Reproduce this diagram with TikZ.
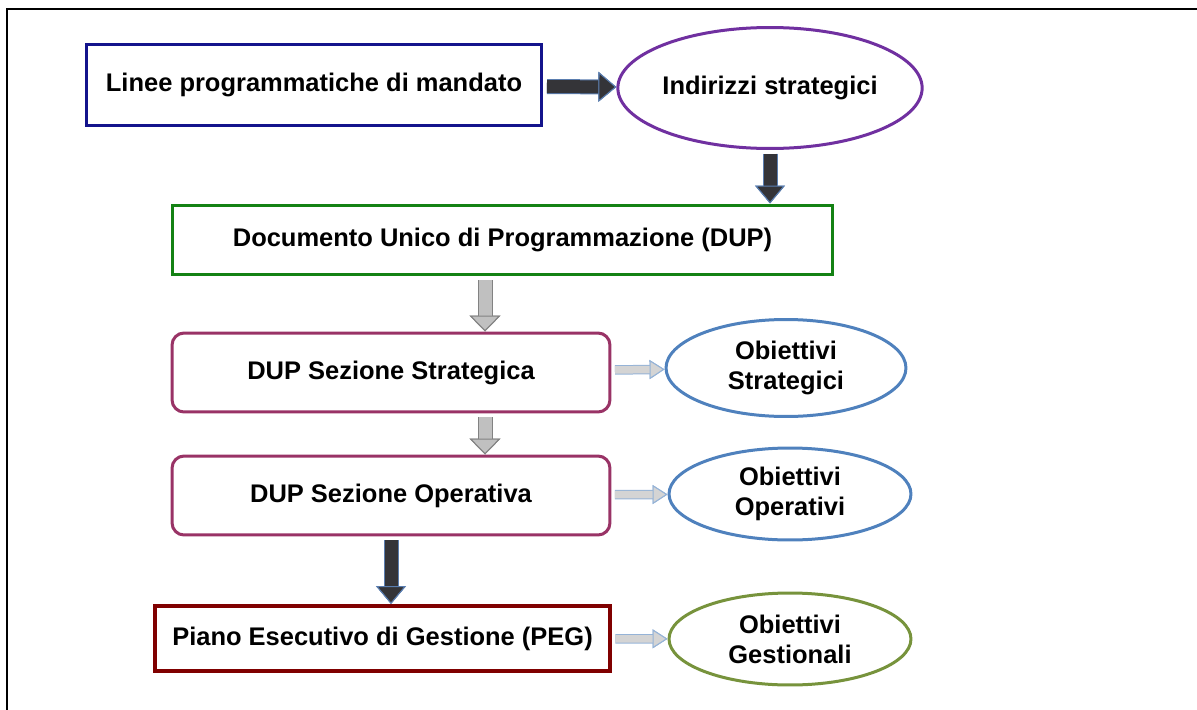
\documentclass[tikz,border=0pt]{standalone}
\usepackage{fontspec}
\setmainfont{Liberation Sans}
\usetikzlibrary{shapes, arrows.meta, positioning, calc}

\definecolor{boxnavy}{RGB}{20,20,140}
\definecolor{ellpurple}{RGB}{112,48,160}
\definecolor{boxgreen}{RGB}{20,130,20}
\definecolor{boxplum}{RGB}{153,51,102}
\definecolor{boxred}{RGB}{128,0,0}
\definecolor{ellblue}{RGB}{79,129,189}
\definecolor{ellgreen}{RGB}{119,147,60}
\definecolor{arrdark}{RGB}{52,52,56}
\definecolor{arredge}{RGB}{90,125,175}
\definecolor{arrgrey}{RGB}{192,192,192}
\definecolor{arrgreyedge}{RGB}{130,130,130}
\definecolor{arrside}{RGB}{212,212,212}
\definecolor{arrsideedge}{RGB}{149,179,215}

\begin{document}
\begin{tikzpicture}[
    x=0.02cm, y=-0.02cm,
    font=\fontsize{14.5}{17}\selectfont\bfseries,
    box/.style={draw, line width=0.06cm, fill=white, inner sep=0pt, align=center},
    oval/.style={draw, ellipse, line width=0.06cm, fill=white, inner sep=0pt, align=center},
    darkarrow/.style={draw=arrdark, line width=0.26cm, shorten <=2pt,
        -{Triangle[length=0.36cm, width=0.6cm, color=arredge, fill=arrdark, line width=0.6pt]},
        preaction={draw=arredge, line width=0.3cm}},
    greyarrow/.style={draw=arrgrey, line width=0.26cm, shorten <=2pt,
        -{Triangle[length=0.32cm, width=0.62cm, color=arrgreyedge, fill=arrgrey, line width=0.6pt]},
        preaction={draw=arrgreyedge, line width=0.3cm}},
    sidearrow/.style={draw=arrside, line width=0.15cm, shorten <=2pt,
        -{Triangle[length=0.3cm, width=0.38cm, color=arrsideedge, fill=arrside, line width=0.6pt]},
        preaction={draw=arrsideedge, line width=0.19cm}}
]

\useasboundingbox (0,0) rectangle (1197,710);

% Frame round the whole scheme
\draw[line width=0.04cm] (7,710) -- (7,9) -- (1197,9);

% Main column
\node (linee) [box, draw=boxnavy, minimum width=9.12cm, minimum height=1.64cm] at (314,85) {Linee programmatiche di mandato};
\node (indir) [oval, draw=ellpurple, minimum width=5.84cm, minimum height=2.42cm] at (770,88) {Indirizzi strategici};
\node (dup) [box, draw=boxgreen, minimum width=13.22cm, minimum height=1.4cm] at (502.5,240) {Documento Unico di Programmazione (DUP)};
\node (strat) [box, draw=boxplum, rounded corners=0.24cm, minimum width=8.76cm, minimum height=1.58cm] at (391,372.5) {DUP Sezione Strategica};
\node (oper) [box, draw=boxplum, rounded corners=0.24cm, minimum width=8.76cm, minimum height=1.58cm] at (391,495.5) {DUP Sezione Operativa};
\node (peg) [box, draw=boxred, line width=0.08cm, minimum width=9.1cm, minimum height=1.3cm] at (382.5,638.5) {Piano Esecutivo di Gestione (PEG)};

% Objectives
\node (ostrat) [oval, draw=ellblue, minimum width=4.8cm, minimum height=1.94cm] at (786,368) {Obiettivi\\Strategici};
\node (ooper) [oval, draw=ellblue, minimum width=4.84cm, minimum height=1.84cm] at (790,494) {Obiettivi\\Operativi};
\node (oges) [oval, draw=ellgreen, minimum width=4.84cm, minimum height=1.84cm] at (790,639) {Obiettivi\\Gestionali};

% Arrows
\coordinate (gx) at (485,0);
\draw[darkarrow] (linee) -- (indir);
\draw[darkarrow] (indir.south) -- (indir.south |- dup.north);
\draw[greyarrow] (dup.south -| gx) -- (strat.north -| gx);
\draw[greyarrow] (strat.south -| gx) -- (oper.north -| gx);
\draw[darkarrow] (oper.south) -- (oper.south |- peg.north);

\draw[sidearrow] (strat) -- (ostrat);
\draw[sidearrow] (oper) -- (ooper);
\draw[sidearrow] (peg) -- (oges);

\end{tikzpicture}
\end{document}
